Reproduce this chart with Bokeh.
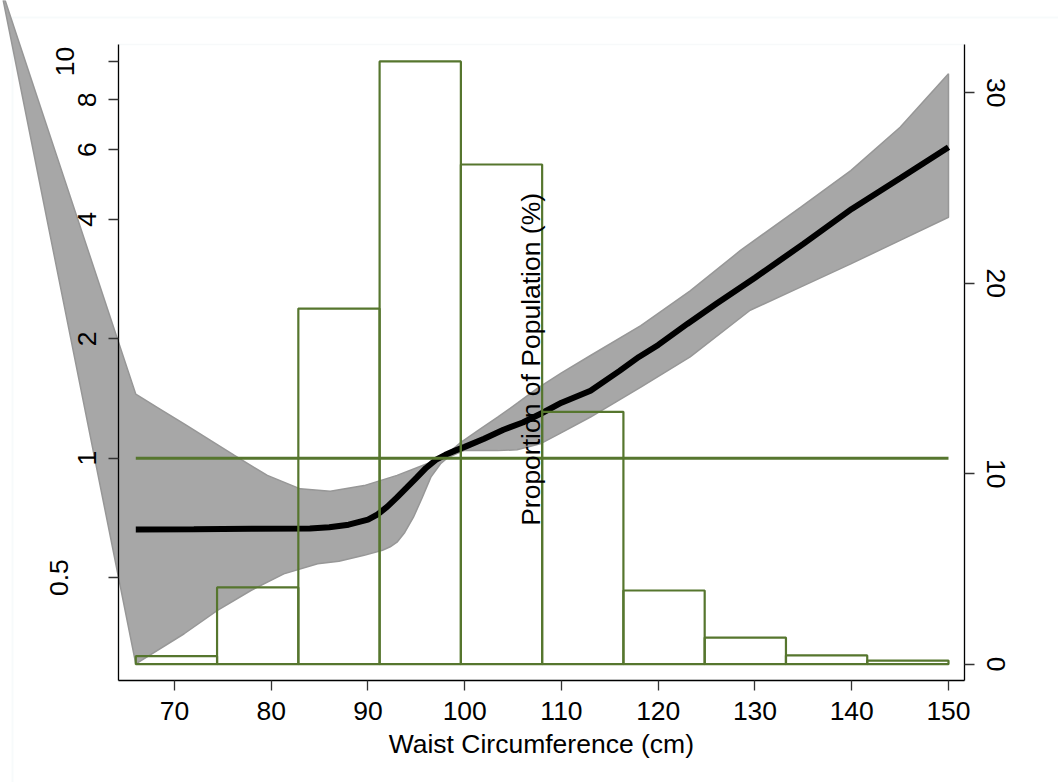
from bokeh.plotting import figure
from bokeh.models import (Range1d, LinearAxis, LogAxis, FixedTicker, LinearScale,
                          BoxAnnotation, Label)
from bokeh.embed import file_html
from bokeh.resources import INLINE

# ---------------- data ----------------
# odds ratio curve (left, log axis)
curve_x = [66, 72, 78, 84, 86, 88, 90, 91, 92, 93, 94, 95, 96, 97, 98, 99, 100,
           102, 104, 106, 108, 110, 113, 116, 118, 120, 123, 126, 130, 135, 140, 145, 150]
curve_or = [0.661, 0.662, 0.664, 0.665, 0.670, 0.680, 0.700, 0.722, 0.755, 0.797,
            0.843, 0.892, 0.945, 0.990, 1.020, 1.045, 1.068, 1.12, 1.18, 1.23, 1.30,
            1.38, 1.48, 1.66, 1.80, 1.93, 2.18, 2.45, 2.85, 3.47, 4.25, 5.08, 6.08]

# confidence band
upper_x = [66, 68.5, 71, 76.2, 79.6, 83.0, 86.1, 89.6, 93.0, 96.5, 98.2, 99.6, 101.5,
           103.4, 105.5, 107.5, 110, 113.0, 118.2, 123.3, 128.5, 134.7, 139.9, 145.0, 150]
upper_or = [1.45, 1.33, 1.22, 1.016, 0.905, 0.837, 0.826, 0.853, 0.905, 0.977, 1.026,
            1.097, 1.18, 1.269, 1.38, 1.50, 1.64, 1.815, 2.16, 2.64, 3.34, 4.29, 5.31,
            6.83, 9.31]
lower_x = [66, 71, 74.4, 77.9, 81.3, 84.8, 87, 89.6, 91.5, 92.3, 93.0, 93.8, 94.7, 95.6,
           96.5, 97.5, 98.2, 99.9, 103.4, 105.4, 107.8, 110, 113.0, 118.2, 123.3, 129.5,
           134.7, 139.9, 145.0, 150]
lower_or = [0.303, 0.361, 0.413, 0.464, 0.511, 0.542, 0.550, 0.569, 0.586, 0.598, 0.614,
            0.650, 0.710, 0.795, 0.896, 0.968, 1.002, 1.045, 1.045, 1.050, 1.087, 1.16,
            1.27, 1.51, 1.80, 2.36, 2.70, 3.09, 3.54, 4.05]
# stray first point of the band (lies outside the plot region)
band_start_x = 52.0
band_start_or = 15.5

# reference line at OR = 1
ref_x = [66, 150]
ref_or = [1, 1]

# histogram (right axis, % of population)
bin_left = [66, 74.4, 82.8, 91.2, 99.6, 108, 116.4, 124.8, 133.2, 141.6]
bin_right = [74.4, 82.8, 91.2, 99.6, 108, 116.4, 124.8, 133.2, 141.6, 150]
pct = [0.42, 4.03, 18.67, 31.64, 26.23, 13.25, 3.87, 1.40, 0.46, 0.19]

x_ticks = [70, 80, 90, 100, 110, 120, 130, 140, 150]
left_ticks = [0.5, 1, 2, 4, 6, 8, 10]
left_tick_labels = ["0.5", "1", "2", "4", "6", "8", "10"]
right_ticks = [0, 10, 20, 30]

x_title = "Waist Circumference (cm)"
right_title = "Proportion of Population (%)"

# plot-region limits (data units) and full-canvas limits
X_LO, X_HI = 64.18, 151.65
OR_LO, OR_HI = 0.2753, 11.04
PCT_LO, PCT_HI = -0.856, 32.53
CANVAS_X = (52.016, 161.37)
CANVAS_OR = (0.15224, 14.249)
CANVAS_PCT = (-6.21, 34.84)

# ---------------- styles ----------------
GREEN = "#56762e"
FONT = "Liberation Sans"
FS = "26.5px"

p = figure(width=1058, height=782,
           x_range=Range1d(*CANVAS_X), y_range=Range1d(*CANVAS_OR),
           y_axis_type="log", output_backend="svg", toolbar_location=None,
           min_border_left=0, min_border_right=0, min_border_top=0,
           min_border_bottom=0)
p.extra_y_ranges = {"pct": Range1d(*CANVAS_PCT)}
p.extra_y_scales = {"pct": LinearScale()}
p.grid.visible = False
p.background_fill_color = "white"
p.border_fill_color = "white"
p.outline_line_color = None

# outer graph-region border and plot-region outline
outer = BoxAnnotation(left=12, right=1300, top=17, bottom=1200,
                      left_units="canvas", right_units="canvas",
                      top_units="canvas", bottom_units="canvas",
                      fill_color=None, line_color="#e6eef1", line_width=2,
                      level="underlay")
p.add_layout(outer)
region = BoxAnnotation(left=X_LO, right=X_HI, bottom=OR_LO, top=OR_HI,
                       fill_color=None, line_color="#e3ebee", line_width=1.5,
                       level="underlay")
p.add_layout(region)

# confidence band
band_xs = [band_start_x] + upper_x + lower_x[::-1]
band_ys = [band_start_or] + upper_or + lower_or[::-1]
p.patch(band_xs, band_ys, fill_color="#a7a7a7", fill_alpha=1.0,
        line_color="#979797", line_width=1.5)

p.line(curve_x, curve_or, line_color="black", line_width=6)
p.line(ref_x, ref_or, line_color=GREEN, line_width=3)
p.quad(left=bin_left, right=bin_right, bottom=[0] * len(pct), top=pct,
       y_range_name="pct", fill_alpha=0, line_color=GREEN, line_width=2.2)

lbl = Label(x=106.8, y=16.0, y_range_name="pct", text=right_title, angle=90,
            angle_units="deg", text_align="center", text_baseline="alphabetic",
            text_font=FONT, text_font_size=FS, text_color="black")
p.add_layout(lbl)

ttl = Label(x=(X_LO + X_HI) / 2, y=0.1904, text=x_title, text_align="center",
            text_baseline="alphabetic", text_font=FONT, text_font_size=FS,
            text_color="black")
p.add_layout(ttl)


def style_axis(ax):
    ax.axis_line_color = "black"
    ax.axis_line_width = 1.3
    ax.major_tick_line_color = "#333333"
    ax.major_tick_line_width = 1.3
    ax.major_tick_out = 10
    ax.major_tick_in = 0
    ax.minor_tick_line_color = None
    ax.major_label_text_font = FONT
    ax.major_label_text_font_size = FS
    ax.major_label_text_color = "black"


# axes at the plot-region edges
xa = p.xaxis[0]
xa.ticker = FixedTicker(ticks=x_ticks)
xa.fixed_location = OR_LO
xa.bounds = (X_LO, X_HI)
xa.major_label_standoff = 12
style_axis(xa)

# left log axis: single-character labels sit closer to the axis than the wider ones
label_map = dict(zip(left_ticks, left_tick_labels))
short_ticks = [t for t in left_ticks if len(label_map[t]) == 1]
ya = p.yaxis[0]
ya.ticker = FixedTicker(ticks=left_ticks)
ya.major_label_overrides = {t: (label_map[t] if t in short_ticks else "") for t in left_ticks}
ya.major_label_orientation = "vertical"
ya.fixed_location = X_LO
ya.bounds = (OR_LO, OR_HI)
ya.major_label_standoff = 12
style_axis(ya)

for t, standoff in ((10, 34), (0.5, 40)):
    extra = LogAxis(ticker=FixedTicker(ticks=[t]),
                    major_label_overrides={t: label_map[t]})
    style_axis(extra)
    extra.axis_line_color = None
    extra.major_tick_line_color = None
    extra.major_label_orientation = "vertical"
    extra.fixed_location = X_LO
    extra.bounds = (OR_LO, OR_HI)
    extra.major_label_standoff = standoff
    p.add_layout(extra, "left")

ra = LinearAxis(y_range_name="pct", ticker=FixedTicker(ticks=right_ticks))
ra.major_label_orientation = "vertical"
ra.fixed_location = X_HI
ra.bounds = (PCT_LO, PCT_HI)
ra.major_label_standoff = 13
style_axis(ra)
p.add_layout(ra, "right")

open("out.html", "w").write(file_html(p, INLINE))
